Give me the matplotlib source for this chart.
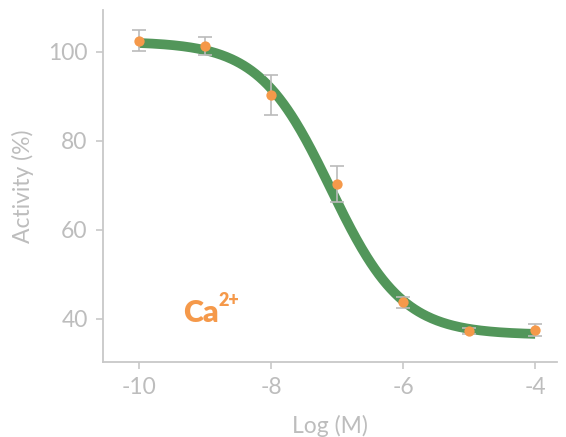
import numpy as np
import matplotlib
matplotlib.use("Agg")
import matplotlib.pyplot as plt

plt.rcParams['font.family'] = ['Lato', 'DejaVu Sans']

# data
log_conc = [-10, -9, -8, -7, -6, -5, -4]
activity = [102.5, 101.3, 90.3, 70.3, 43.7, 37.3, 37.5]
errors = [2.3, 2.0, 4.4, 4.1, 1.2, 0.7, 1.3]

# fitted 4PL parameters
fit_top = 102.3
fit_bottom = 36.4
fit_logic50 = -7.1
fit_hill = 0.8

x_ticks = [-10, -8, -6, -4]
y_ticks = [40, 60, 80, 100]

gray_text = '#BDBDBD'
gray_line = '#C8C8C8'
green = '#52965A'
orange = '#F5994A'

fig = plt.figure(figsize=(5.66, 4.37), dpi=100)
ax = fig.add_axes([103/566, 1 - 362/437, (557-103)/566, (362-10)/437])

xs = np.linspace(log_conc[0], log_conc[-1], 300)
ys = fit_bottom + (fit_top - fit_bottom) / (1 + 10 ** ((xs - fit_logic50) * fit_hill))
ax.plot(xs, ys, color=green, lw=7, solid_capstyle='butt', zorder=2)

ax.errorbar(log_conc, activity, yerr=errors, fmt='none', ecolor='#BBBBBB',
            elinewidth=1.2, capsize=5, capthick=1.2, zorder=3)
ax.scatter(log_conc, activity, s=55, color=orange, zorder=4, linewidths=0)

ax.set_xlim(-10.545, -3.67)
ax.set_ylim(30.3, 109.4)
ax.set_xticks(x_ticks)
ax.set_xticklabels([f'-{abs(t)}' for t in x_ticks])
ax.set_yticks(y_ticks)

for s in ['top', 'right']:
    ax.spines[s].set_visible(False)
for s in ['left', 'bottom']:
    ax.spines[s].set_color(gray_line)
    ax.spines[s].set_linewidth(1.3)
ax.tick_params(colors=gray_line, labelcolor=gray_text, labelsize=16.5,
               length=5, width=1.2, direction='out', pad=6)

ax.set_xlabel('Log (M)', fontsize=16.5, color=gray_text, labelpad=12)
ax.set_ylabel('Activity (%)', fontsize=16.5, color=gray_text, labelpad=10)

ax.text(-9.333, 39.3, 'Ca', fontsize=22, fontweight='heavy', color=orange,
        ha='left', va='baseline')
ax.text(-8.80, 42.8, '2+', fontsize=13, fontweight='heavy', color=orange,
        ha='left', va='baseline')

fig.savefig('out.png', dpi=100)
